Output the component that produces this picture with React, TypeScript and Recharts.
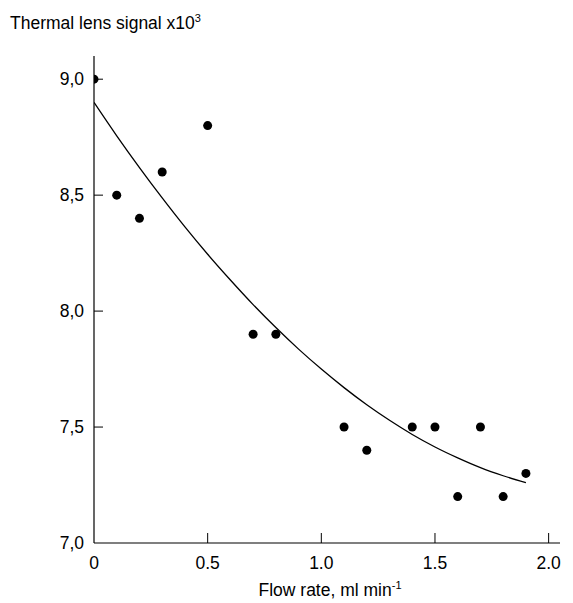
import React from "react";
import { ComposedChart, Line, Scatter, XAxis, YAxis } from "recharts";

// measured points
const flowRates = [0, 0.1, 0.2, 0.3, 0.5, 0.7, 0.8, 1.1, 1.2, 1.4, 1.5, 1.6, 1.7, 1.8, 1.9];
const signals = [9.0, 8.5, 8.4, 8.6, 8.8, 7.9, 7.9, 7.5, 7.4, 7.5, 7.5, 7.2, 7.5, 7.2, 7.3];

// fitted curve
const fitX = [0, 0.1, 0.2, 0.3, 0.4, 0.5, 0.6, 0.7, 0.8, 0.9, 1.0, 1.1, 1.2, 1.3, 1.4, 1.5, 1.6, 1.7, 1.8, 1.9];
const fitY = [
  8.9, 8.756, 8.619, 8.488, 8.363, 8.245, 8.134, 8.028, 7.929, 7.836, 7.75, 7.67, 7.596, 7.529,
  7.468, 7.414, 7.367, 7.325, 7.29, 7.26,
];

const xTicks = [0, 0.5, 1.0, 1.5, 2.0];
const xTickLabels = ["0", "0.5", "1.0", "1.5", "2.0"];
const yTicks = [7.0, 7.5, 8.0, 8.5, 9.0];
const yTickLabels = ["7,0", "7,5", "8,0", "8,5", "9,0"];

const points = flowRates.map((x, i) => ({ x, y: signals[i] }));
const fit = fitX.map((x, i) => ({ x, y: fitY[i] }));

const FONT = "'Liberation Sans', Arial, sans-serif";
const FS = 17.5;

function XTick(props: any) {
  const { x, y, payload } = props;
  const idx = xTicks.indexOf(payload.value);
  return (
    <g>
      {payload.value !== 0 && <line x1={x} x2={x} y1={y} y2={y - 10} stroke="#000" strokeWidth={1} />}
      <text x={x} y={y + 26} textAnchor="middle" fontSize={FS} fontFamily={FONT} fill="#000">
        {xTickLabels[idx]}
      </text>
    </g>
  );
}

function YTick(props: any) {
  const { x, y, payload } = props;
  const idx = yTicks.indexOf(payload.value);
  return (
    <g>
      {payload.value !== 7 && <line x1={x} x2={x + 9} y1={y} y2={y} stroke="#000" strokeWidth={1} />}
      <text x={x - 10} y={y + 6} textAnchor="end" fontSize={FS} fontFamily={FONT} fill="#000">
        {yTickLabels[idx]}
      </text>
    </g>
  );
}

const textStyle: React.CSSProperties = {
  position: "absolute",
  fontFamily: FONT,
  fontSize: FS,
  lineHeight: "20px",
  color: "#000",
  whiteSpace: "nowrap",
};

const supStyle: React.CSSProperties = {
  fontSize: 11,
  position: "relative",
  top: -7,
  verticalAlign: "baseline",
  lineHeight: 0,
};

export default function App() {
  return (
    <div style={{ position: "absolute", left: 0, top: 0, width: 573, height: 603, background: "#fff" }}>
      <div style={{ ...textStyle, left: 10, top: 13 }}>
        Thermal lens signal x10<span style={supStyle}>3</span>
      </div>
      <ComposedChart width={573} height={603} margin={{ top: 56, right: 13, bottom: 0, left: 0 }}>
        <XAxis
          type="number"
          dataKey="x"
          domain={[0, 2.05]}
          ticks={xTicks}
          interval={0}
          allowDataOverflow
          axisLine={{ stroke: "#000", strokeWidth: 1.2 }}
          tickLine={false}
          tickSize={0}
          tickMargin={0}
          height={60}
          tick={<XTick />}
        />
        <YAxis
          type="number"
          dataKey="y"
          domain={[7, 9.1]}
          ticks={yTicks}
          interval={0}
          allowDataOverflow
          axisLine={{ stroke: "#000", strokeWidth: 1.2 }}
          tickLine={false}
          tickSize={0}
          tickMargin={0}
          width={94}
          tick={<YTick />}
        />
        <Line
          data={fit}
          dataKey="y"
          type="monotone"
          stroke="#000"
          strokeWidth={1.3}
          dot={false}
          activeDot={false}
          isAnimationActive={false}
        />
        <Scatter
          data={points}
          dataKey="y"
          fill="#000"
          shape={(p: any) => <circle cx={p.cx} cy={p.cy} r={4.5} fill="#000" />}
          isAnimationActive={false}
        />
      </ComposedChart>
      <div style={{ ...textStyle, left: 0, width: 660, top: 580, textAlign: "center" }}>
        Flow rate, ml min<span style={supStyle}>-1</span>
      </div>
    </div>
  );
}
